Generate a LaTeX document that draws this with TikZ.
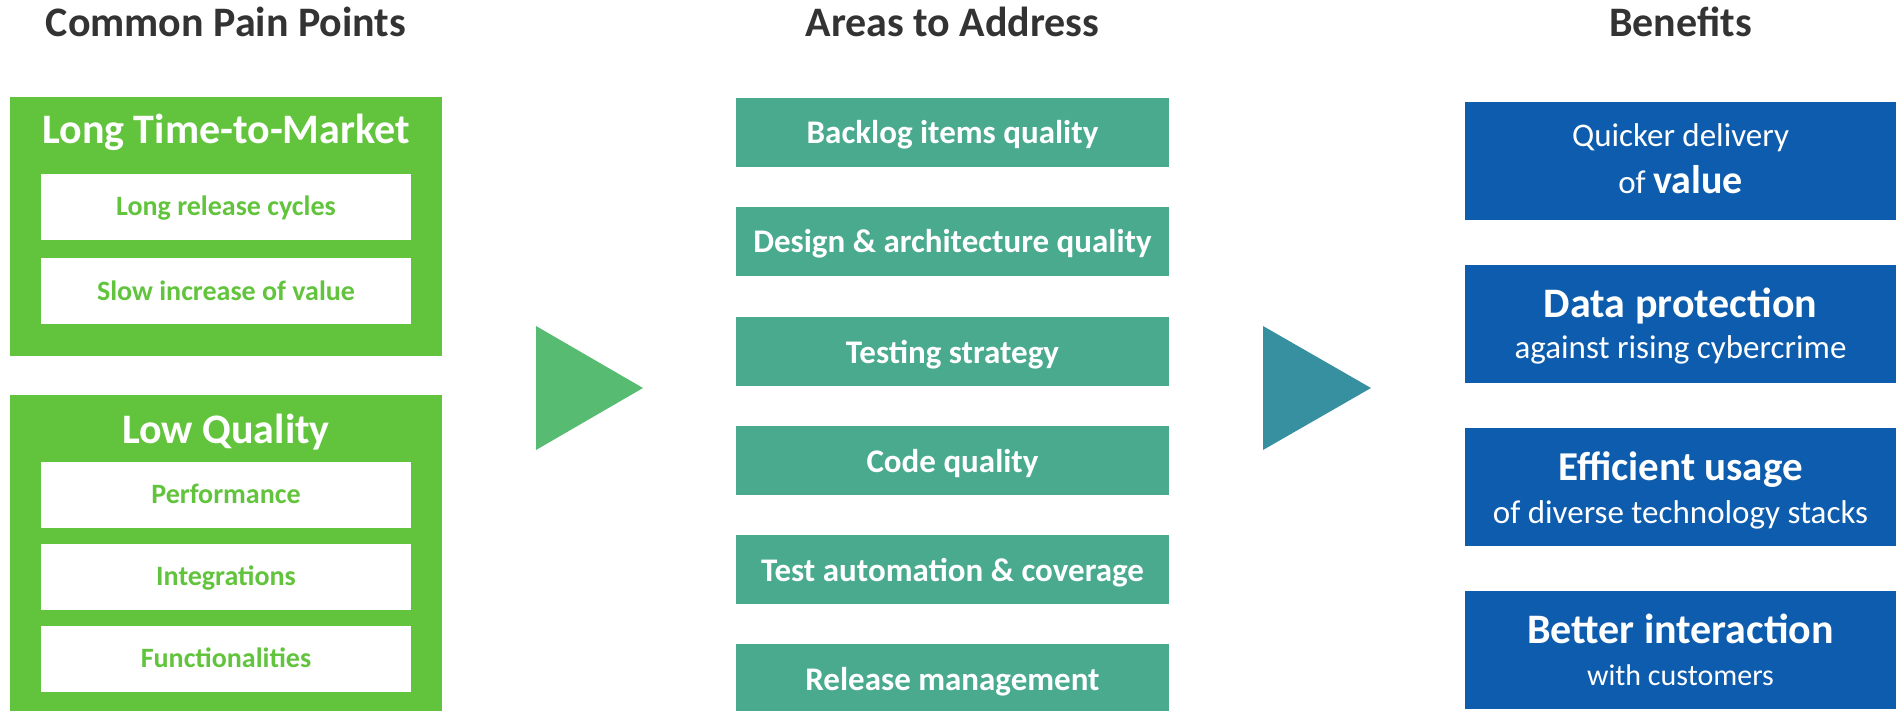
\documentclass[tikz,border=0pt]{standalone}
\usepackage{fontspec}
\setmainfont{Carlito}
\definecolor{pgreen}{RGB}{98,196,60}
\definecolor{agreen}{RGB}{74,170,142}
\definecolor{bblue}{RGB}{14,92,173}
\definecolor{trione}{RGB}{88,187,114}
\definecolor{tritwo}{RGB}{55,144,160}
\definecolor{titlegray}{RGB}{51,51,51}
\newcommand\fsz[1]{\fontsize{#1}{#1}\selectfont}
\tikzset{
  coltitle/.style={anchor=base, inner sep=0pt, text=titlegray, font=\bfseries\fsz{42}},
  greenbox/.style={fill=pgreen, draw=none, minimum width=432pt, inner sep=0pt},
  greenhead/.style={anchor=base, inner sep=0pt, text=white, font=\bfseries\fsz{42}},
  whitebox/.style={fill=white, draw=none, minimum width=370pt, minimum height=66pt, inner sep=0pt,
    text=pgreen, font=\bfseries\fsz{28}, text height=17.5pt, text depth=0pt},
  areabox/.style={fill=agreen, draw=none, minimum width=433pt, minimum height=69pt, inner sep=0pt,
    text=white, font=\bfseries\fsz{33}, text height=23pt, text depth=0pt},
  bluebox/.style={fill=bblue, draw=none, minimum width=431pt, minimum height=118pt, inner sep=0pt},
  bluemain/.style={anchor=base, inner sep=0pt, text=white, font=\bfseries\fsz{42}},
  bluesub/.style={anchor=base, inner sep=0pt, text=white, font=\fsz{33}},
}
\begin{document}
\begin{tikzpicture}[x=1pt,y=-1pt]
\useasboundingbox (0,0) rectangle (1896,711);
% titles
\node[coltitle] (t1) at (226,37) {Common Pain Points};
\node[coltitle] (t2) at (952.5,37) {Areas to Address};
\node[coltitle] (t3) at (1680.5,37) {Benefits};
% left column
\node[greenbox, minimum height=259pt] (g1) at (226,226.5) {};
\node[greenhead] (g1h) at (226,144) {Long Time-to-Market};
\node[whitebox] (w1) at (226,207) {Long release cycles};
\node[whitebox] (w2) at (226,291.5) {Slow increase of value};
\node[greenbox, minimum height=316pt] (g2) at (226,553) {};
\node[greenhead] (g2h) at (226,443) {Low Quality};
\node[whitebox] (w3) at (226,495) {Performance};
\node[whitebox] (w4) at (226,577) {Integrations};
\node[whitebox] (w5) at (226,659) {Functionalities};
% arrows (triangles)
\fill[trione] (536,326) -- (643,388) -- (536,450) -- cycle;
\fill[tritwo] (1263,326) -- (1371,388) -- (1263,450) -- cycle;
% middle column
\node[areabox] (a1) at (952.5,132.5) {Backlog items quality};
\node[areabox] (a2) at (952.5,241.5) {Design \& architecture quality};
\node[areabox] (a3) at (952.5,351.5) {Testing strategy};
\node[areabox] (a4) at (952.5,460.5) {Code quality};
\node[areabox] (a5) at (952.5,569.5) {Test automation \& coverage};
\node[areabox] (a6) at (952.5,678.5) {Release management};
% right column
\node[bluebox] (b1) at (1680.5,161) {};
\node[bluesub] (b1a) at (1680.5,147) {Quicker delivery};
\node[bluesub] (b1b) at (1680.5,194) {of {\bfseries\fsz{40}value}};
\node[bluebox] (b2) at (1680.5,324) {};
\node[bluemain] (b2a) at (1680.5,318) {Data protection};
\node[bluesub] (b2b) at (1680.5,359) {against rising cybercrime};
\node[bluebox] (b3) at (1680.5,487) {};
\node[bluemain, font=\bfseries\fsz{41}] (b3a) at (1680.5,480) {Efficient usage};
\node[bluesub] (b3b) at (1680.5,523) {of diverse technology stacks};
\node[bluebox] (b4) at (1680.5,650) {};
\node[bluemain] (b4a) at (1680.5,643) {Better interaction};
\node[bluesub, font=\fsz{30}] (b4b) at (1680.5,685) {with customers};
\end{tikzpicture}
\end{document}
